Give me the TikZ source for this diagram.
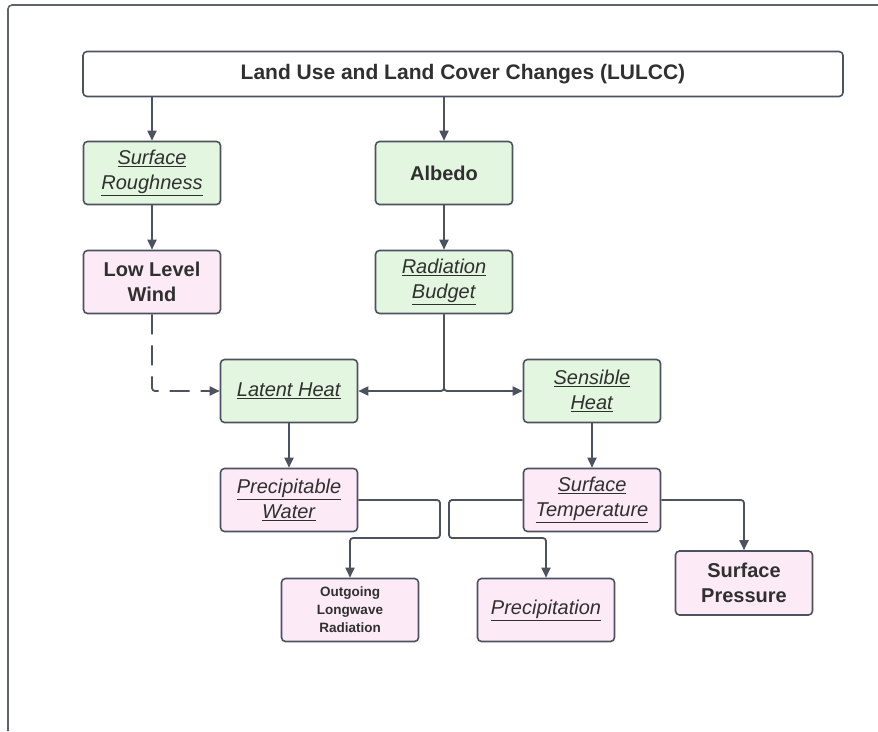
\documentclass[tikz,border=0pt]{standalone}
\usepackage{fontspec}
\setmainfont{Liberation Sans}
\usetikzlibrary{arrows.meta,positioning,calc}
\usepackage{xcolor}

\definecolor{lineGray}{HTML}{4D5260}
\definecolor{frameGray}{HTML}{5F646C}
\definecolor{boxGreen}{HTML}{E3F7E0}
\definecolor{boxPink}{HTML}{FCEAF6}
\definecolor{textGray}{HTML}{303030}
\newcommand{\ulit}[1]{\underline{\textit{#1}}}

\begin{document}
\begin{tikzpicture}[
    x=1pt, y=-1pt,
    every node/.style={
        font=\fontsize{20}{25}\selectfont,
        text=textGray
    },
    box/.style={
        draw=lineGray,
        line width=1.6pt,
        rounded corners=4pt,
        minimum width=137pt,
        minimum height=63pt,
        align=center,
        inner sep=2pt
    },
    greenbox/.style={box, fill=boxGreen},
    pinkbox/.style={box, fill=boxPink},
    boldtext/.style={font=\fontsize{20}{25}\selectfont\bfseries},
    link/.style={
        draw=lineGray,
        line width=1.8pt,
        rounded corners=3pt,
        -{Triangle[length=10pt,width=9pt]}
    }
]
\useasboundingbox (0,0) rectangle (878,731);

% ---------------- Frame ----------------
\draw[frameGray, line width=1.6pt, rounded corners=4pt]
    (8,731) -- (8,5) -- (878,5);

% ---------------- Boxes ----------------
\node[box, fill=white, minimum width=760pt, minimum height=45pt,
      font=\fontsize{21}{25}\selectfont\bfseries] (lulcc) at (463,74)
    {Land Use and Land Cover Changes (LULCC)};

\node[greenbox] (rough) at (152,173) {\ulit{Surface}\\\ulit{Roughness}};
\node[greenbox, boldtext] (albedo) at (444,173) {Albedo};
\node[pinkbox, boldtext] (wind) at (152,282) {Low Level\\Wind};
\node[greenbox] (rad) at (444,282) {\ulit{Radiation}\\\ulit{Budget}};
\node[greenbox] (latent) at (289,391) {\ulit{Latent Heat}};
\node[greenbox] (sensible) at (592,391) {\ulit{Sensible}\\\ulit{Heat}};
\node[pinkbox] (pwater) at (289,500) {\ulit{Precipitable}\\\ulit{Water}};
\node[pinkbox] (stemp) at (592,500) {\ulit{Surface}\\\ulit{Temperature}};
\node[pinkbox, font=\fontsize{13.5}{18}\selectfont\bfseries] (olr) at (350,610)
    {Outgoing\\Longwave\\Radiation};
\node[pinkbox] (precip) at (546,610) {\ulit{Precipitation}};
\node[pinkbox, boldtext, minimum height=64pt] (spress) at (744,583)
    {Surface\\Pressure};

% ---------------- Split points ----------------
\coordinate (splitL) at (440,538);
\coordinate (splitR) at (449,538);

% ---------------- Connectors ----------------
\draw[link] (lulcc.south -| rough) -- (rough);
\draw[link] (lulcc.south -| albedo) -- (albedo);
\draw[link] (rough) -- (wind);
\draw[link] (albedo) -- (rad);
\draw[link] (rad.south) |- (latent.east);
\draw[link] (rad.south) |- (sensible.west);
\draw[link, dash pattern=on 20pt off 11pt] (wind.south) |- (latent.west);
\draw[link] (latent) -- (pwater);
\draw[link] (sensible) -- (stemp);
\draw[link] (pwater.east) -| (splitL) -| (olr.north);
\draw[link] (stemp.west) -| (splitR) -| (precip.north);
\draw[link] (stemp.east) -| (spress.north);

\end{tikzpicture}
\end{document}
